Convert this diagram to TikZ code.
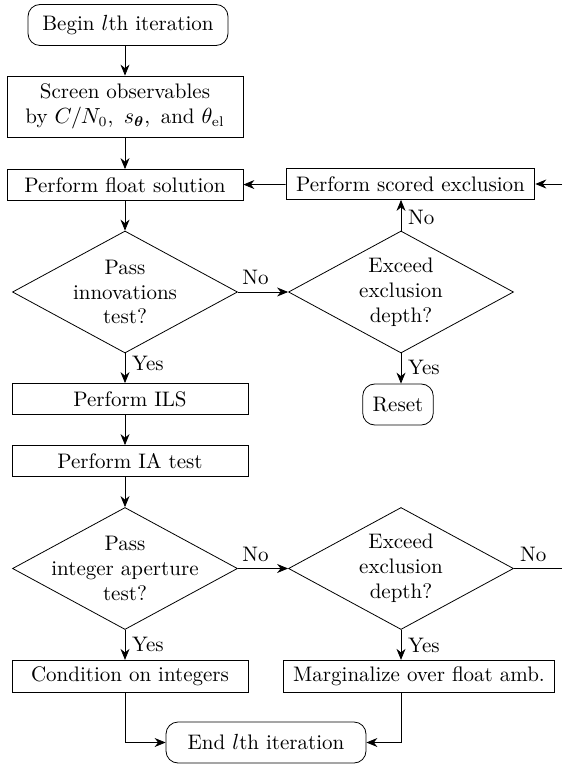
\documentclass[tikz,border=0pt]{standalone}
\usepackage{amsmath}
\usepackage{amssymb}
\usepackage{tikz}
\usetikzlibrary{shapes.geometric,arrows.meta,positioning}

\tikzset{
  term/.style={draw, rounded corners=6pt, minimum width=100pt, minimum height=20.5pt, inner xsep=5pt},
  block/.style={draw, rectangle, minimum width=118pt, minimum height=15.5pt, inner xsep=5pt, align=center},
  decide/.style={draw, diamond, minimum width=112.5pt, minimum height=61pt, inner sep=0pt},
}

\begin{document}
\begin{tikzpicture}[>={Stealth[length=5.5pt,width=4.5pt]}, node distance=2cm, on grid, auto,
    font=\fontsize{10.5pt}{12.4pt}\selectfont]
   \useasboundingbox (0,0) rectangle (281pt,-382pt);
   \coordinate (rim) at (281pt,0);
   \node[term] (begin) at (64pt,-12.5pt) {Begin $l$th iteration};
   \node[block, minimum height=30.5pt] (screen) [below=40.75pt of begin, xshift=-1.5pt]
      {Screen observables\\by $C/N_0$,\enspace$s_{\boldsymbol{\theta}}$,\enspace and $\theta_{\mathrm{el}}$};
   \node[block] (float) [below=39.25pt of screen] {Perform float solution};
   \node[decide, label={[align=center]center:Pass\\innovations\\test?}] (pit) [below=53.5pt of float] {};
   \node[block] (ils) [below=53.5pt of pit, xshift=2.5pt] {Perform ILS};
   \node[block] (iat) [below=31pt of ils] {Perform IA test};
   \node[decide, label={[align=center]center:Pass\\integer aperture\\test?}] (piat) [below=53.75pt of iat, xshift=-2.5pt] {};
   \node[block] (cond) [below=54pt of piat, xshift=2.5pt] {Condition on integers};
   \node[term] (end) [below right=33pt and 68pt of cond] {End $l$th iteration};
   % right column
   \node[decide, label={[align=center]center:Exceed\\exclusion\\depth?}] (exd1) [right=138pt of pit] {};
   \node[block, minimum width=0pt] (scored) [above=54pt of exd1, xshift=4.75pt] {Perform scored exclusion};
   \node[term, minimum width=0pt] (reset) [below=56.25pt of exd1, xshift=-1.5pt] {Reset};
   \node[decide, label={[align=center]center:Exceed\\exclusion\\depth?}] (exd2) [right=138pt of piat] {};
   \node[block, minimum width=0pt] (marg) [below=54pt of exd2, xshift=9pt] {Marginalize over float amb.};
    \path[->]
    (begin.south -| pit) edge (screen.north -| pit)
    (screen.south -| pit) edge (float.north -| pit)
    (float) edge (pit)
    (pit) edge node[pos=0.35] {No} (exd1)
    (pit) edge node[pos=0.35] {Yes} (ils.north -| pit)
    (ils.south -| pit) edge (iat.north -| pit)
    (iat.south -| pit) edge (piat)
    (piat) edge node[pos=0.35] {No} (exd2)
    (piat) edge node[pos=0.48] {Yes} (cond.north -| piat)
    (exd1) edge node[swap, pos=0.42] {No} (scored.south -| exd1)
    (exd1) edge node[pos=0.45] {Yes} (reset.north -| exd1)
    (exd2) edge node[pos=0.53] {Yes} (marg.north -| exd2)
    (scored) edge (float)
    (scored.east -| rim) edge (scored);
    \draw (exd2) -- node[pos=0.4] {No} (exd2.east -| rim);
    \draw[->] (cond.south -| piat) |- (end);
    \draw[->] (marg.south -| exd2) |- (end);
\end{tikzpicture}
\end{document}
